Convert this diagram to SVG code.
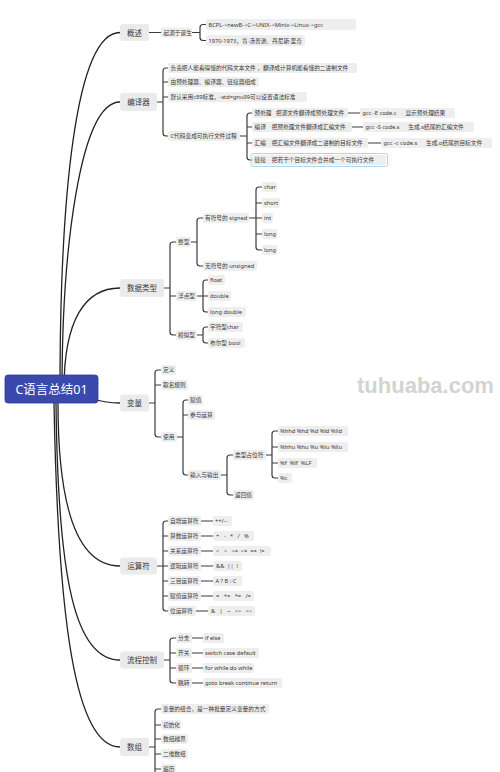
<svg xmlns="http://www.w3.org/2000/svg" width="500" height="772" viewBox="0 0 500 772">
<style>
text{font-family:"Noto Sans","Noto Sans CJK SC",sans-serif;dominant-baseline:central;fill:#3a3a3a}
.n1{fill:#ebebeb}
.n2{fill:#eeeeee}
.t1{font-size:7.5px;text-anchor:middle}
.t2{font-size:5.7px}
.c{fill:none;stroke:#3b3b3b;stroke-width:1.2;stroke-linecap:round}
.m{fill:none;stroke:#222;stroke-width:1.3}
</style>
<rect width="500" height="772" fill="#fff"/>
<text x="357" y="385" style="font-family:'Liberation Sans',sans-serif;font-weight:bold;font-size:22px;fill:#d3d3d3">tuhuaba.com</text>
<g id="connectors">
<path class="m" d="M60 389 C60 200 75 32.5 120 32.5"/>
<path class="m" d="M62 389 C62 250 80 102 120 102"/>
<path class="m" d="M64 389 C64 320 85 288 120 288"/>
<path class="m" d="M90 398 Q105 403 120 403"/>
<path class="m" d="M58 403 C58 500 75 566 120 566"/>
<path class="m" d="M56 403 C58 580 75 660 120 660"/>
<path class="m" d="M54 403 C58 620 75 747 120 747"/>
<path class="c" d="M149 32.5 H161 M192 32.5 H200 M206 24.5 H203 Q200 24.5 200 27.5 V37.5 Q200 40.5 203 40.5 H206"/>
<path class="c" d="M157 102 H163 M168 68 H166 Q163 68 163 71 V133 Q163 136 166 136 H168 M163 82 H168 M163 97 H168"/>
<path class="c" d="M240 136 H247 M252 113 H250 Q247 113 247 116 V157 Q247 160 250 160 H252 M247 127 H252 M247 143 H252"/>
<path class="c" d="M348 113 H360 M352 127 H363 M368 143 H381"/>
<path class="c" d="M164 288 H170 M176 242 H173 Q170 242 170 245 V332 Q170 335 173 335 H176 M170 296 H176"/>
<path class="c" d="M191 242 H197 M203 218 H200 Q197 218 197 221 V263 Q197 266 200 266 H203"/>
<path class="c" d="M249 218 H262 M262 187 H259 Q256 187 256 190 V247 Q256 250 259 250 H262 M256 203 H262 M256 234 H262"/>
<path class="c" d="M197 296 H203 M208 280 H206 Q203 280 203 283 V309 Q203 312 206 312 H208 M203 296 H208"/>
<path class="c" d="M197 335 H203 M208 327 H206 Q203 327 203 330 V340 Q203 343 206 343 H208"/>
<path class="c" d="M149 403 H155 M161 370 H158 Q155 370 155 373 V434 Q155 437 158 437 H161 M155 385 H161"/>
<path class="c" d="M177 437 H183 M188 400 H186 Q183 400 183 403 V472 Q183 475 186 475 H188 M183 415 H188"/>
<path class="c" d="M221 475 H227 M233 455 H230 Q227 455 227 458 V492 Q227 495 230 495 H233"/>
<path class="c" d="M266 455 H272 M278 431 H275 Q272 431 272 434 V475 Q272 478 275 478 H278 M272 447 H278 M272 463 H278"/>
<path class="c" d="M157 566 H168 M168 521 H166 Q163 521 163 524 V608 Q163 611 166 611 H168 M163 536 H168 M163 551 H168 M163 581 H168 M163 596 H168"/>
<path class="c" d="M201 521 H213 M201 536 H213 M201 551 H213 M201 566 H213 M201 581 H213 M201 596 H213 M196 611 H208"/>
<path class="c" d="M164 660 H170 M176 638 H173 Q170 638 170 641 V680 Q170 683 173 683 H176 M170 653 H176 M170 668 H176"/>
<path class="c" d="M192 638 H203 M192 653 H203 M192 668 H203 M192 683 H203"/>
<path class="c" d="M149 747 H155 M161 709 H158 Q155 709 155 712 V776 M155 725 H161 M155 739 H161 M155 754 H161 M155 769 H161"/>
</g>
<g id="root"><rect x="5" y="375" width="93" height="28" rx="3" fill="#3b48ad" stroke="#2e3a96" stroke-width="0.8"/><text x="51.5" y="389" style="font-size:12.5px;fill:#fff;text-anchor:middle">C语言总结01</text></g>
<g id="gaishu"><rect class="n1" x="120" y="24" width="29" height="17" rx="3"/><text class="t1" x="134.5" y="32.5">概述</text></g>
<g id="gaishu-1"><rect class="n2" x="161" y="27.5" width="31" height="10" rx="2"/><text class="t2" x="163.5" y="32.5">起源于诞生</text></g>
<g id="gaishu-1a"><rect class="n2" x="206" y="19" width="150" height="11" rx="2"/><text class="t2" x="208.5" y="24.5">BCPL-&gt;newB-&gt;C-&gt;UNIX-&gt;Minix-&gt;Linux-&gt;gcc</text></g>
<g id="gaishu-1b"><rect class="n2" x="206" y="35" width="99" height="11" rx="2"/><text class="t2" x="208.5" y="40.5">1970-1973，肯·汤普逊、丹尼斯·里奇</text></g>
<g id="bianyiqi"><rect class="n1" x="120" y="93" width="37" height="18" rx="3"/><text class="t1" x="138.5" y="102">编译器</text></g>
<g id="byq-1"><rect class="n2" x="168" y="63" width="189" height="10" rx="2"/><text class="t2" x="170.5" y="68">负责把人能看得懂的代码文本文件 ，翻译成计算机能看懂的二进制文件</text></g>
<g id="byq-2"><rect class="n2" x="168" y="77" width="91" height="10" rx="2"/><text class="t2" x="170.5" y="82">由预处理器、编译器、链接器组成</text></g>
<g id="byq-3"><rect class="n2" x="168" y="92" width="139" height="10" rx="2"/><text class="t2" x="170.5" y="97">默认采用c89标准，-std=gnu99可以设置语法标准</text></g>
<g id="byq-4"><rect class="n2" x="168" y="131" width="72" height="10" rx="2"/><text class="t2" x="170.5" y="136">C代码变成可执行文件过程</text></g>
<g id="byq-4a"><rect class="n2" x="252" y="108" width="96" height="10" rx="2"/><text class="t2" x="254.5" y="113" xml:space="preserve">预处理   把源文件翻译成预处理文件</text></g>
<g id="byq-4a1"><rect class="n2" x="360" y="108" width="95" height="10" rx="2"/><text class="t2" x="362.5" y="113" xml:space="preserve">gcc -E code.c      显示预处理结果</text></g>
<g id="byq-4b"><rect class="n2" x="252" y="122" width="100" height="10" rx="2"/><text class="t2" x="254.5" y="127" xml:space="preserve">编译    把预处理文件翻译成汇编文件</text></g>
<g id="byq-4b1"><rect class="n2" x="363" y="122" width="111" height="10" rx="2"/><text class="t2" x="365.5" y="127" xml:space="preserve">gcc -S code.s      生成.s结尾的汇编文件</text></g>
<g id="byq-4c"><rect class="n2" x="252" y="138" width="116" height="10" rx="2"/><text class="t2" x="254.5" y="143" xml:space="preserve">汇编    把汇编文件翻译成二进制的目标文件</text></g>
<g id="byq-4c1"><rect class="n2" x="381" y="138" width="111" height="10" rx="2"/><text class="t2" x="383.5" y="143" xml:space="preserve">gcc -c code.s      生成.o结尾的目标文件</text></g>
<g id="byq-4d"><rect x="251" y="153.5" width="136.5" height="13" rx="2" fill="none" stroke="#9ed3ee" stroke-width="0.9"/><rect class="n2" x="252.5" y="155" width="133.5" height="10" rx="1.5"/><text class="t2" x="254.5" y="160" xml:space="preserve">链接    把若干个目标文件合并成一个可执行文件</text></g>
<g id="shujuleixing"><rect class="n1" x="120" y="279" width="44" height="18" rx="3"/><text class="t1" x="142" y="288">数据类型</text></g>
<g id="sj-zx"><rect class="n2" x="176" y="237" width="15" height="10" rx="2"/><text class="t2" x="178" y="242">整型</text></g>
<g id="sj-signed"><rect class="n2" x="203" y="213" width="46" height="10" rx="2"/><text class="t2" x="205" y="218">有符号的 signed</text></g>
<g id="sj-char"><rect class="n2" x="262" y="182" width="15" height="10" rx="2"/><text class="t2" x="264" y="187">char</text></g>
<g id="sj-short"><rect class="n2" x="262" y="198" width="18" height="10" rx="2"/><text class="t2" x="264" y="203">short</text></g>
<g id="sj-int"><rect class="n2" x="262" y="213" width="11" height="10" rx="2"/><text class="t2" x="264" y="218">int</text></g>
<g id="sj-long1"><rect class="n2" x="262" y="229" width="15" height="10" rx="2"/><text class="t2" x="264" y="234">long</text></g>
<g id="sj-long2"><rect class="n2" x="262" y="245" width="15" height="10" rx="2"/><text class="t2" x="264" y="250">long</text></g>
<g id="sj-unsigned"><rect class="n2" x="203" y="261" width="54" height="10" rx="2"/><text class="t2" x="205" y="266">无符号的 unsigned</text></g>
<g id="sj-fd"><rect class="n2" x="176" y="291" width="21" height="10" rx="2"/><text class="t2" x="178" y="296">浮点型</text></g>
<g id="sj-float"><rect class="n2" x="208" y="275" width="17" height="10" rx="2"/><text class="t2" x="210" y="280">float</text></g>
<g id="sj-double"><rect class="n2" x="208" y="291" width="23" height="10" rx="2"/><text class="t2" x="210" y="296">double</text></g>
<g id="sj-ldouble"><rect class="n2" x="208" y="307" width="38" height="10" rx="2"/><text class="t2" x="210" y="312">long double</text></g>
<g id="sj-mn"><rect class="n2" x="176" y="330" width="21" height="10" rx="2"/><text class="t2" x="178" y="335">模拟型</text></g>
<g id="sj-charx"><rect class="n2" x="208" y="322" width="35" height="10" rx="2"/><text class="t2" x="210" y="327">字符型char</text></g>
<g id="sj-bool"><rect class="n2" x="208" y="338" width="37" height="10" rx="2"/><text class="t2" x="210" y="343">布尔型 bool</text></g>
<g id="bianliang"><rect class="n1" x="120" y="394.5" width="29" height="17" rx="3"/><text class="t1" x="134.5" y="403">变量</text></g>
<g id="bl-dy"><rect class="n2" x="161" y="365" width="15" height="10" rx="2"/><text class="t2" x="163" y="370">定义</text></g>
<g id="bl-qm"><rect class="n2" x="161" y="380" width="27" height="10" rx="2"/><text class="t2" x="163" y="385">取名规则</text></g>
<g id="bl-sy"><rect class="n2" x="161" y="432" width="16" height="10" rx="2"/><text class="t2" x="163" y="437">使用</text></g>
<g id="bl-fz"><rect class="n2" x="188" y="395" width="15" height="10" rx="2"/><text class="t2" x="190" y="400">赋值</text></g>
<g id="bl-cy"><rect class="n2" x="188" y="410" width="27" height="10" rx="2"/><text class="t2" x="190" y="415">参与运算</text></g>
<g id="bl-io"><rect class="n2" x="188" y="470" width="33" height="10" rx="2"/><text class="t2" x="190" y="475">输入与输出</text></g>
<g id="bl-lx"><rect class="n2" x="233" y="450" width="33" height="10" rx="2"/><text class="t2" x="235" y="455">类型占位符</text></g>
<g id="bl-fh"><rect class="n2" x="233" y="490" width="21" height="10" rx="2"/><text class="t2" x="235" y="495">返回值</text></g>
<g id="bl-d"><rect class="n2" x="278" y="426" width="70" height="10" rx="2"/><text class="t2" x="280" y="431">%hhd %hd %d %ld %lld</text></g>
<g id="bl-u"><rect class="n2" x="278" y="442" width="70" height="10" rx="2"/><text class="t2" x="280" y="447">%hhu %hu %u %lu %llu</text></g>
<g id="bl-f"><rect class="n2" x="278" y="458" width="39" height="10" rx="2"/><text class="t2" x="280" y="463" xml:space="preserve">%f  %lf  %LF</text></g>
<g id="bl-c"><rect class="n2" x="278" y="473" width="14" height="10" rx="2"/><text class="t2" x="280" y="478">%c</text></g>
<g id="yunsuanfu"><rect class="n1" x="120" y="557.5" width="37" height="17" rx="3"/><text class="t1" x="138.5" y="566">运算符</text></g>
<g id="ys-1"><rect class="n2" x="168" y="516" width="33" height="10" rx="2"/><text class="t2" x="170" y="521">自增运算符</text></g>
<g id="ys-1v"><rect class="n2" x="213" y="516" width="19" height="10" rx="2"/><text class="t2" x="215" y="521">++/--</text></g>
<g id="ys-2"><rect class="n2" x="168" y="531" width="33" height="10" rx="2"/><text class="t2" x="170" y="536">算数运算符</text></g>
<g id="ys-2v"><rect class="n2" x="213" y="531" width="41" height="10" rx="2"/><text class="t2" x="216" y="536" xml:space="preserve">+   -   *   /   %</text></g>
<g id="ys-3"><rect class="n2" x="168" y="546" width="33" height="10" rx="2"/><text class="t2" x="170" y="551">关系运算符</text></g>
<g id="ys-3v"><rect class="n2" x="213" y="546" width="58" height="10" rx="2"/><text class="t2" x="216" y="551" xml:space="preserve">&lt;   &gt;   &gt;=  &lt;=  ==  !=</text></g>
<g id="ys-4"><rect class="n2" x="168" y="561" width="33" height="10" rx="2"/><text class="t2" x="170" y="566">逻辑运算符</text></g>
<g id="ys-4v"><rect class="n2" x="213" y="561" width="29" height="10" rx="2"/><text class="t2" x="216" y="566" xml:space="preserve">&amp;&amp;  ||  !</text></g>
<g id="ys-5"><rect class="n2" x="168" y="576" width="33" height="10" rx="2"/><text class="t2" x="170" y="581">三目运算符</text></g>
<g id="ys-5v"><rect class="n2" x="213" y="576" width="29" height="10" rx="2"/><text class="t2" x="215.5" y="581">A ? B : C</text></g>
<g id="ys-6"><rect class="n2" x="168" y="591" width="33" height="10" rx="2"/><text class="t2" x="170" y="596">赋值运算符</text></g>
<g id="ys-6v"><rect class="n2" x="213" y="591" width="41" height="10" rx="2"/><text class="t2" x="216" y="596" xml:space="preserve">=   +=   *=   /=</text></g>
<g id="ys-7"><rect class="n2" x="168" y="606" width="28" height="10" rx="2"/><text class="t2" x="170" y="611">位运算符</text></g>
<g id="ys-7v"><rect class="n2" x="208" y="606" width="47" height="10" rx="2"/><text class="t2" x="211" y="611" xml:space="preserve">&amp;   |   ~   &gt;&gt;   &lt;&lt;</text></g>
<g id="liucheng"><rect class="n1" x="120" y="651.5" width="44" height="17" rx="3"/><text class="t1" x="142" y="660">流程控制</text></g>
<g id="lc-1"><rect class="n2" x="176" y="633" width="16" height="10" rx="2"/><text class="t2" x="178" y="638">分支</text></g>
<g id="lc-1v"><rect class="n2" x="203" y="633" width="21" height="10" rx="2"/><text class="t2" x="205" y="638">if else</text></g>
<g id="lc-2"><rect class="n2" x="176" y="648" width="16" height="10" rx="2"/><text class="t2" x="178" y="653">开关</text></g>
<g id="lc-2v"><rect class="n2" x="203" y="648" width="56" height="10" rx="2"/><text class="t2" x="205" y="653">switch case default</text></g>
<g id="lc-3"><rect class="n2" x="176" y="663" width="16" height="10" rx="2"/><text class="t2" x="178" y="668">循环</text></g>
<g id="lc-3v"><rect class="n2" x="203" y="663" width="51" height="10" rx="2"/><text class="t2" x="205" y="668">for while do while</text></g>
<g id="lc-4"><rect class="n2" x="176" y="678" width="16" height="10" rx="2"/><text class="t2" x="178" y="683">跳转</text></g>
<g id="lc-4v"><rect class="n2" x="203" y="678" width="79" height="10" rx="2"/><text class="t2" x="205" y="683">goto break continue return</text></g>
<g id="shuzu"><rect class="n1" x="120" y="738" width="29" height="18" rx="3"/><text class="t1" x="134.5" y="747">数组</text></g>
<g id="sz-1"><rect class="n2" x="161" y="704" width="108" height="10" rx="2"/><text class="t2" x="163" y="709">变量的组合，是一种批量定义变量的方式</text></g>
<g id="sz-2"><rect class="n2" x="161" y="720" width="20" height="10" rx="2"/><text class="t2" x="163" y="725">初始化</text></g>
<g id="sz-3"><rect class="n2" x="161" y="734" width="27" height="10" rx="2"/><text class="t2" x="163" y="739">数组越界</text></g>
<g id="sz-4"><rect class="n2" x="161" y="749" width="27" height="10" rx="2"/><text class="t2" x="163" y="754">二维数组</text></g>
<g id="sz-5"><rect class="n2" x="161" y="764" width="15" height="10" rx="2"/><text class="t2" x="163" y="769">遍历</text></g>
</svg>
